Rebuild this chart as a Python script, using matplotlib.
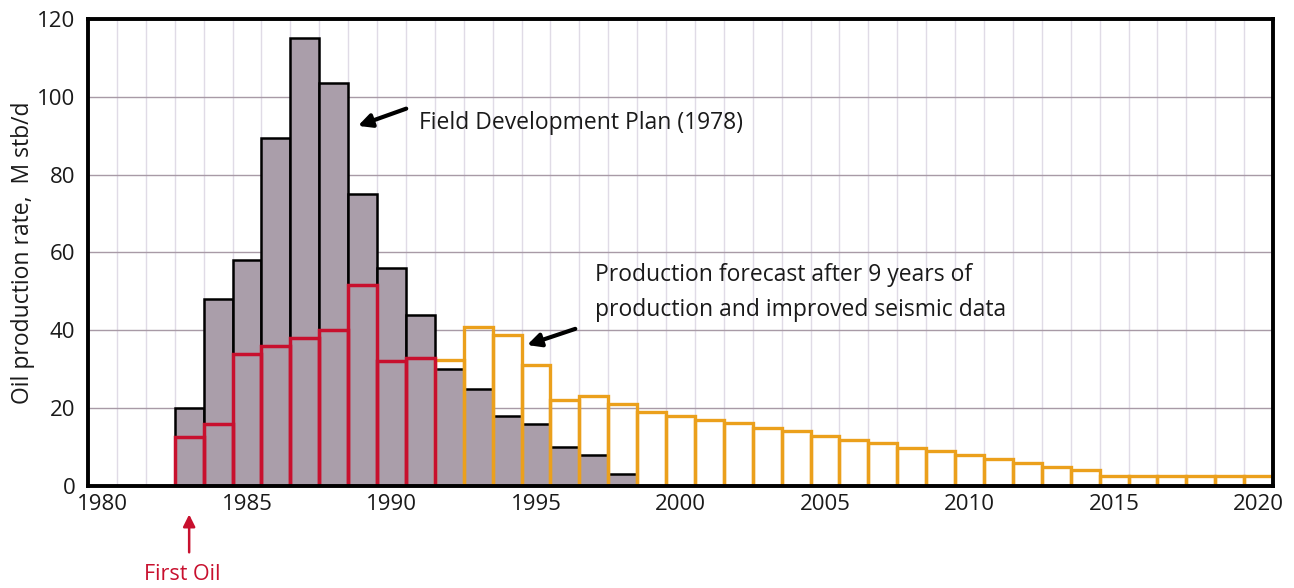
import numpy as np
import matplotlib
matplotlib.use("Agg")
from matplotlib import pyplot as plt

plt.rcParams['font.family'] = ['Open Sans', 'DejaVu Sans']

# Field Development Plan (1978) - grey bars
plan_years = np.arange(1983, 1999)
plan_rate = [20, 48, 58, 89.5, 115, 103.5, 75, 56, 44, 30, 25, 18, 16, 10, 8, 3]

# Actual production - red outline
actual_years = np.arange(1983, 1992)
actual_rate = [12.7, 16, 34, 36, 38, 40, 51.7, 32, 33]

# Forecast after 9 years - orange outline
fc_years = np.arange(1992, 2021)
fc_rate = [32.5, 40.8, 38.8, 31, 22, 23, 21, 19, 18, 17, 16.2, 14.8, 14, 12.9, 11.9,
           11.1, 9.8, 9.1, 7.9, 7, 5.8, 5, 4.1, 2.6, 2.6, 2.6, 2.6, 2.6, 2.6]

grey = '#aa9eaa'
red = '#c8102e'
orange = '#eba01c'
txt = '#1a1a1a'

fig = plt.figure(figsize=(12.94, 5.88), dpi=100)
ax = fig.add_axes([0.068, 0.1735, 0.9158, 0.7942])

ax.bar(plan_years, plan_rate, width=1, color=grey, edgecolor='black', linewidth=1.8, zorder=2)
ax.bar(fc_years, fc_rate, width=1, fill=False, edgecolor=orange, linewidth=2.4, zorder=3)
ax.bar(actual_years, actual_rate, width=1, fill=False, edgecolor=red, linewidth=2.5, zorder=4)

ax.set_xlim(1979.5, 2020.5)
ax.set_ylim(0, 120)
ax.set_xticks(np.arange(1980, 2021, 5))
ax.set_yticks(np.arange(0, 121, 20))
ax.set_xticks(np.arange(1980.5, 2020.5, 1), minor=True)
ax.tick_params(axis='both', which='both', length=0, labelsize=16, colors=txt)
ax.tick_params(axis='y', pad=9)
ax.tick_params(axis='x', pad=6)

ax.grid(axis='x', which='minor', color='#e0dbe6', lw=1.0, zorder=0)
ax.grid(axis='y', which='major', color='#a89aa6', lw=1.0, zorder=0)
ax.set_axisbelow(True)

for s in ax.spines.values():
    s.set_linewidth(2.8)
    s.set_color('black')
    s.set_zorder(5)

ax.set_ylabel('Oil production rate,  M stb/d', fontsize=16.5, color=txt)
ax.yaxis.set_label_coords(-0.045, 0.5)

ax.annotate('', xy=(1988.75, 92.3), xytext=(1990.6, 97.2),
            arrowprops=dict(arrowstyle='-|>', lw=3, mutation_scale=20, color='black'))
ax.text(1990.95, 93.2, 'Field Development Plan (1978)', fontsize=16.5, va='center', ha='left', color=txt)

ax.annotate('', xy=(1994.6, 36.0), xytext=(1996.45, 40.6),
            arrowprops=dict(arrowstyle='-|>', lw=3, mutation_scale=20, color='black'))
ax.text(1997.05, 54.2, 'Production forecast after 9 years of', fontsize=16.5, va='center', ha='left', color=txt)
ax.text(1997.05, 45.2, 'production and improved seismic data', fontsize=16.5, va='center', ha='left', color=txt)

ax.annotate('', xy=(1983, -0.055), xytext=(1983, -0.148),
            xycoords=('data', 'axes fraction'), textcoords=('data', 'axes fraction'),
            arrowprops=dict(arrowstyle='-|>', lw=1.8, mutation_scale=18, color=red),
            annotation_clip=False)
ax.text(1982.75, -0.19, 'First Oil', color=red, fontsize=15.5, ha='center', va='center',
        transform=ax.get_xaxis_transform(), clip_on=False)

fig.savefig('out.png', dpi=100)
